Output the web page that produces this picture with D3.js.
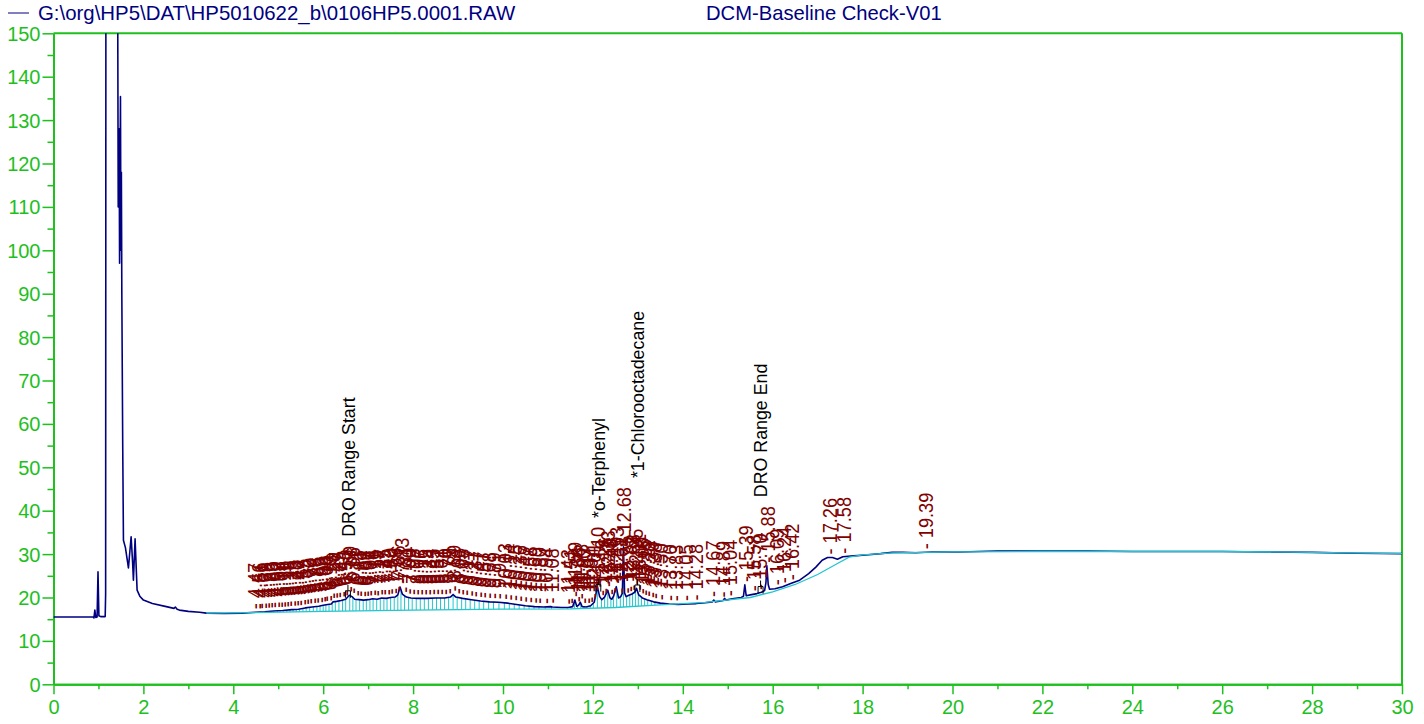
<!DOCTYPE html>
<html>
<head>
<meta charset="utf-8">
<script src="https://cdn.jsdelivr.net/npm/d3@7"></script>
<style>
  html, body { margin: 0; padding: 0; background: #ffffff; }
  svg { display: block; font-family: "Liberation Sans", Arial, sans-serif; }
</style>
</head>
<body>
<svg id="chart" width="1424" height="724"></svg>
<script>
// ---------- data ----------
const fileName = "G:\\org\\HP5\\DAT\\HP5010622_b\\0106HP5.0001.RAW";
const methodName = "DCM-Baseline Check-V01";

const xTicks = [0, 2, 4, 6, 8, 10, 12, 14, 16, 18, 20, 22, 24, 26, 28, 30];
const xMinorTicks = [1, 3, 5, 7, 9, 11, 13, 15, 17, 19, 21, 23, 25, 27, 29];
const yTicks = [0, 10, 20, 30, 40, 50, 60, 70, 80, 90, 100, 110, 120, 130, 140, 150];
const yMinorTicks = [5, 15, 25, 35, 45, 55, 65, 75, 85, 95, 105, 115, 125, 135, 145];

// chromatogram signal [time (min), response]
const trace = [
  [0, 15.5], [0.88, 15.5], [0.9, 15.3], [0.92, 17.1], [0.94, 15.4], [0.97, 15.5], [0.99, 25.9],
  [1.01, 15.8], [1.05, 15.6], [1.15, 15.6], [1.16, 20.9], [1.175, 400], [1.40, 400], [1.43, 150],
  [1.44, 110], [1.46, 128], [1.47, 97], [1.49, 135.4], [1.50, 100], [1.51, 118], [1.52, 90],
  [1.54, 55], [1.556, 33.2], [1.6, 31.5], [1.667, 26.8], [1.727, 34], [1.76, 28], [1.778, 24],
  [1.815, 33.5], [1.86, 21.7], [1.92, 20.3], [2.0, 19.4], [2.2, 18.6], [2.51, 17.9], [2.68, 17.5],
  [2.71, 17.8], [2.75, 17.3], [2.8, 17.1], [3.0, 16.8], [3.25, 16.6], [3.4, 16.4], [3.8, 16.3],
  [4.2, 16.4], [4.5, 16.6], [4.7, 16.7], [4.9, 16.9], [5.1, 17.0], [5.3, 17.2], [5.45, 17.3],
  [5.6, 17.6], [5.75, 17.8], [5.9, 18.0], [6.0, 18.2], [6.1, 18.4], [6.18, 18.5], [6.22, 19.0],
  [6.3, 19.1], [6.4, 19.3], [6.5, 19.6], [6.58, 20.5], [6.64, 20.2], [6.7, 19.6], [6.8, 19.5],
  [6.9, 19.4], [7.0, 19.5], [7.1, 19.7], [7.2, 19.6], [7.3, 19.9], [7.4, 19.8], [7.5, 20.0],
  [7.6, 20.1], [7.66, 20.6], [7.71, 22.4], [7.76, 20.8], [7.85, 20.1], [7.95, 19.9], [8.1, 19.8],
  [8.3, 19.8], [8.5, 19.9], [8.7, 19.9], [8.83, 20.1], [8.89, 20.7], [8.95, 20.1], [9.1, 19.8],
  [9.3, 19.5], [9.5, 19.2], [9.7, 19.0], [9.9, 18.9], [10.1, 18.7], [10.3, 18.4], [10.5, 18.1],
  [10.7, 17.9], [10.9, 17.8], [11.06, 17.9], [11.1, 17.8], [11.3, 17.7], [11.45, 17.7],
  [11.55, 17.9], [11.6, 19.4], [11.64, 18.0], [11.68, 18.2], [11.72, 18.9], [11.76, 17.9],
  [11.85, 17.8], [11.95, 18.1], [12.03, 18.9], [12.1, 22.5], [12.15, 20.2], [12.2, 19.5],
  [12.26, 20.1], [12.33, 21.7], [12.38, 19.9], [12.42, 19.6], [12.46, 20.3], [12.52, 22.5],
  [12.57, 19.9], [12.62, 20.2], [12.655, 21.0], [12.68, 31.7], [12.705, 21.0], [12.74, 20.2],
  [12.8, 20.5], [12.87, 20.8], [12.93, 21.2], [12.97, 22.1], [13.02, 20.6], [13.1, 19.9],
  [13.2, 19.5], [13.35, 19.0], [13.5, 18.7], [13.7, 18.5], [13.9, 18.4], [14.1, 18.5],
  [14.3, 18.6], [14.5, 18.8], [14.66, 19.0], [14.69, 19.4], [14.72, 19.0], [14.9, 19.3],
  [14.93, 19.8], [14.96, 19.4], [15.1, 19.7], [15.3, 20.0], [15.35, 20.3], [15.38, 22.9],
  [15.41, 20.4], [15.5, 20.6], [15.65, 20.9], [15.75, 21.2], [15.82, 21.6], [15.85, 23.5],
  [15.87, 27.3], [15.9, 23.0], [15.93, 21.9], [16.05, 22.0], [16.22, 22.5], [16.4, 23.2],
  [16.6, 24.0], [16.8, 25.5], [16.96, 27.0], [17.1, 28.6], [17.22, 29.2], [17.33, 29.2],
  [17.44, 28.8], [17.56, 29.4], [17.8, 29.6], [18.07, 29.8], [18.4, 30.1], [18.66, 30.4],
  [18.9, 30.4], [19.18, 30.3], [19.55, 30.5], [20.14, 30.5], [21, 30.7], [22, 30.7], [23, 30.7],
  [24, 30.6], [25, 30.6], [26, 30.6], [27, 30.5], [28, 30.4], [29, 30.2], [30, 30.1]
];

// integration baseline [time, response]
const baseline = [
  [3.4, 16.4], [4.4, 16.5], [6.0, 16.8], [8.0, 17.1], [10.0, 17.3], [11.5, 17.4], [12.5, 17.7],
  [13.5, 18.3], [14.5, 18.9], [15.5, 20.0], [16.0, 21.3], [16.5, 23.0], [17.0, 25.3],
  [17.4, 27.6], [17.7, 29.3], [18.0, 29.8], [18.66, 30.3], [20, 30.5], [22, 30.6], [26, 30.6],
  [28, 30.4], [30, 30.1]
];

// labelled peak retention times (min)
const peakTimes = [
  4.47, 4.56, 4.61, 4.69, 4.76, 4.83, 4.90, 4.98, 5.04, 5.11, 5.19, 5.26, 5.33, 5.40, 5.47,
  5.55, 5.62, 5.70, 5.78, 5.86, 5.93, 6.00, 6.06, 6.13, 6.20, 6.27, 6.35, 6.43, 6.50, 6.59,
  6.66, 6.73, 6.81, 6.89, 6.96, 7.04, 7.11, 7.19, 7.27, 7.35, 7.42, 7.50, 7.58, 7.66, 7.73,
  7.81, 7.90, 7.98, 8.07, 8.16, 8.25, 8.34, 8.43, 8.52, 8.61, 8.70, 8.79, 8.89, 8.98, 9.08,
  9.17, 9.27, 9.37, 9.47, 9.57, 9.68, 9.79, 9.91, 10.03, 10.14, 10.25, 10.36, 10.47, 10.58,
  10.69, 10.80, 10.94, 11.08, 11.43, 11.51, 11.59, 11.66, 11.73, 11.80, 11.87, 11.94, 12.01,
  12.10, 12.19, 12.26, 12.33, 12.40, 12.46, 12.53, 12.61, 12.68, 12.75, 12.82, 12.88, 12.95,
  13.01, 13.08, 13.15, 13.22, 13.30, 13.38, 13.50, 13.70, 13.83, 14.05, 14.28, 14.67, 14.89,
  15.04, 15.39, 15.58, 15.70, 15.88, 16.09, 16.24, 16.42, 17.26, 17.58, 19.39
];

// named components / events
const namedLabels = ["DRO Range Start", "*o-Terphenyl", "*1-Chlorooctadecane", "DRO Range End"];
const namedTimes = [6.55, 12.12, 12.99, 15.73];

// ---------- drawing ----------
const GREEN = "#1ec01e";
const NAVY = "#000080";
const CYAN = "#22c6cc";
const RED = "#800000";

const svg = d3.select("#chart");
const x = d3.scaleLinear().domain([0, 30]).range([53.5, 1402]);
const y = d3.scaleLinear().domain([0, 150]).range([684.3, 33.3]);

// header
svg.append("line").attr("x1", 8).attr("x2", 29).attr("y1", 13).attr("y2", 13)
  .attr("stroke", NAVY).attr("stroke-width", 1);
svg.append("text").attr("x", 38).attr("y", 20).attr("font-size", 20.4).attr("fill", NAVY).text(fileName);
svg.append("text").attr("x", 706).attr("y", 20).attr("font-size", 20.2).attr("fill", NAVY).text(methodName);

// axes
const gx = svg.append("g").attr("transform", `translate(0,${y(0)})`)
  .call(d3.axisBottom(x).tickValues(xTicks).tickSize(10).tickSizeOuter(0).tickFormat(d3.format("d")));
const gxm = svg.append("g").attr("transform", `translate(0,${y(0)})`)
  .call(d3.axisBottom(x).tickValues(xMinorTicks).tickSize(5).tickSizeOuter(0).tickFormat(""));
const gy = svg.append("g").attr("transform", `translate(${x(0)},0)`)
  .call(d3.axisLeft(y).tickValues(yTicks).tickSize(11).tickSizeOuter(0).tickFormat(d3.format("d")));
const gym = svg.append("g").attr("transform", `translate(${x(0)},0)`)
  .call(d3.axisLeft(y).tickValues(yMinorTicks).tickSize(6).tickSizeOuter(0).tickFormat(""));

[gx, gxm, gy, gym].forEach(g => {
  g.selectAll("path.domain").attr("stroke", GREEN).attr("stroke-width", 2);
  g.selectAll(".tick line").attr("stroke", GREEN).attr("stroke-width", 1.5);
  g.selectAll(".tick text").attr("fill", GREEN).attr("font-size", 20)
    .attr("font-family", "'Liberation Sans', Arial, sans-serif");
});
gx.selectAll(".tick text").attr("y", 16).attr("dy", "0.71em");
gy.selectAll(".tick text").attr("x", -13).attr("dy", "0.35em");

// top and right frame
svg.append("line").attr("x1", x(0)).attr("x2", x(30)).attr("y1", y(150)).attr("y2", y(150))
  .attr("stroke", GREEN).attr("stroke-width", 2);
svg.append("line").attr("x1", x(30)).attr("x2", x(30)).attr("y1", y(150)).attr("y2", y(0))
  .attr("stroke", GREEN).attr("stroke-width", 2);

// clip
svg.append("clipPath").attr("id", "plotclip").append("rect")
  .attr("x", x(0)).attr("y", y(150)).attr("width", x(30) - x(0)).attr("height", y(0) - y(150));

// interpolation helpers (from data)
const bis = d3.bisector(d => d[0]).left;
function valAt(arr, t) {
  const i = bis(arr, t);
  if (i <= 0) return arr[0][1];
  if (i >= arr.length) return arr[arr.length - 1][1];
  const a = arr[i - 1], b = arr[i];
  return a[1] + (b[1] - a[1]) * (t - a[0]) / (b[0] - a[0]);
}
function apexAt(t) {
  let v = valAt(trace, t);
  trace.forEach(d => { if (Math.abs(d[0] - t) <= 0.025 && d[1] > v) v = d[1]; });
  return v;
}

const plot = svg.append("g").attr("clip-path", "url(#plotclip)");

// drop lines
plot.append("g").selectAll("line").data(peakTimes.filter(t => t < 13.6)).join("line")
  .attr("x1", d => x(d)).attr("x2", d => x(d))
  .attr("y1", d => y(valAt(baseline, d))).attr("y2", d => y(valAt(trace, d)))
  .attr("stroke", CYAN).attr("stroke-width", 1);

// trace
const line = d3.line().x(d => x(d[0])).y(d => y(d[1]));
plot.append("path").datum(trace).attr("d", line)
  .attr("fill", "none").attr("stroke", NAVY).attr("stroke-width", 1.6).attr("stroke-linejoin", "round");

// baseline
plot.append("path").datum(baseline).attr("d", line)
  .attr("fill", "none").attr("stroke", CYAN).attr("stroke-width", 1.3);

// peak labels
const LSCALE = 1.15;
const labG = svg.append("g");
const labels = labG.selectAll("text").data(peakTimes).join("text")
  .attr("transform", d => `translate(${x(d)},${y(apexAt(d)) - 3}) rotate(-90) scale(1,${LSCALE})`)
  .attr("dy", "0.36em")
  .attr("font-size", 18.2)
  .attr("fill", RED)
  .text(d => "- " + d.toFixed(2));

// label tops for named annotation placement
const tops = [];
labels.each(function (d) {
  const len = this.getComputedTextLength();
  tops.push({ px: x(d), top: y(apexAt(d)) - 3 - len });
});

// markers for named components
const markG = svg.append("g");
namedTimes.forEach(t => {
  const px = x(t), py = y(valAt(trace, t));
  markG.append("path")
    .attr("d", `M${px - 2.5},${py + 1} V${py - 6} H${px + 2.5} V${py + 1} M${px},${py - 6} V${py - 12}`)
    .attr("fill", "none").attr("stroke", "#000").attr("stroke-width", 1);
});

// named annotations
namedLabels.forEach((name, i) => {
  const t = namedTimes[i], px = x(t);
  let top = y(apexAt(t)) - 40;
  tops.forEach(o => { if (Math.abs(o.px - px) < 18 && o.top < top) top = o.top; });
  svg.append("text")
    .attr("transform", `translate(${px},${top - 9}) rotate(-90) scale(1,1.08)`)
    .attr("dy", "0.36em")
    .attr("font-size", 17.8)
    .attr("fill", "#000")
    .text(name);
});
</script>
</body>
</html>
